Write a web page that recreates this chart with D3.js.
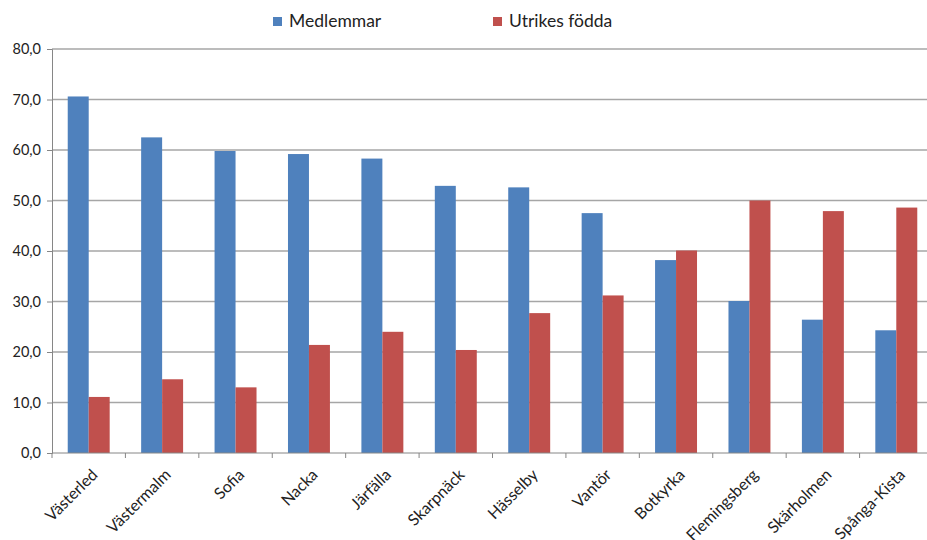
<!DOCTYPE html>
<html><head><meta charset="utf-8">
<script src="https://cdn.jsdelivr.net/npm/d3@7"></script>
<style>body{margin:0;background:#fff}svg{display:block}text{font-family:Lato,"Open Sans",sans-serif}</style>
</head><body>
<svg id="c" width="927" height="540"></svg>
<script>
const categories = ["Västerled","Västermalm","Sofia","Nacka","Järfälla","Skarpnäck","Hässelby","Vantör","Botkyrka","Flemingsberg","Skärholmen","Spånga-Kista"];
const medlemmar = [70.6,62.5,59.8,59.2,58.3,52.9,52.6,47.5,38.2,30.1,26.4,24.3];
const utrikes = [11.1,14.6,13.0,21.4,24.0,20.4,27.7,31.2,40.1,50.0,47.9,48.6];
const seriesNames = ["Medlemmar","Utrikes födda"];
const yTicks = [0,10,20,30,40,50,60,70,80];
const colors = ["#4F81BD","#C0504D"];

(function(){
const svg = d3.select("#c");
const mL = 52, mR = 933, mT = 49, mB = 453;
const x = d3.scaleBand().domain(categories).range([mL, mR]).paddingInner(0).paddingOuter(0);
const inner = d3.scaleBand().domain([0,1]).range([0, x.bandwidth()]).paddingOuter(0.75).paddingInner(0);
const y = d3.scaleLinear().domain([0,80]).range([mB, mT]);

// gridlines
svg.append("g").selectAll("line").data(yTicks.filter(d=>d>0)).join("line")
  .attr("x1", mL).attr("x2", 927).attr("y1", d=>y(d)).attr("y2", d=>y(d))
  .attr("stroke", "#a6a6a6").attr("stroke-width", 1.3);

// bars
const series = [medlemmar, utrikes];
series.forEach((vals, si) => {
  svg.append("g").selectAll("rect").data(vals).join("rect")
    .attr("x", (d,i)=>x(categories[i]) + inner(si))
    .attr("width", inner.bandwidth())
    .attr("y", d=>y(d))
    .attr("height", d=>y(0)-y(d))
    .attr("fill", colors[si]);
});

// y axis
const yAxis = d3.axisLeft(y).tickValues(yTicks).tickSize(5).tickPadding(6)
  .tickFormat(d=>d3.format(".1f")(d).replace(".", ","));
const ya = svg.append("g").attr("transform", `translate(${mL},0)`).call(yAxis);
ya.select(".domain").attr("stroke", "#868686");
ya.selectAll(".tick line").attr("stroke", "#868686");
ya.selectAll("text").attr("font-size", 14.5).attr("fill", "#222").attr("font-family", "Lato");

// x axis
const xa = svg.append("g").attr("transform", `translate(0,${mB})`);
xa.append("line").attr("x1", mL).attr("x2", 927).attr("stroke", "#868686");
xa.selectAll(".tk").data(categories.concat(["_end"])).join("line")
  .attr("x1", (d,i)=>mL + i*x.step()).attr("x2", (d,i)=>mL + i*x.step())
  .attr("y1", 0).attr("y2", 5).attr("stroke", "#868686");
xa.selectAll("text").data(categories).join("text")
  .attr("transform", d=>`translate(${x(d)+x.bandwidth()/2+3},16) rotate(-45)`)
  .attr("text-anchor", "end").attr("dy", "0.6em")
  .attr("font-size", 16).attr("fill", "#222").text(d=>d);

// legend
const lg = svg.append("g");
const lx = [273, 493];
seriesNames.forEach((n, i) => {
  lg.append("rect").attr("x", lx[i]).attr("y", 17).attr("width", 9).attr("height", 9).attr("fill", colors[i]);
  lg.append("text").attr("x", lx[i]+16).attr("y", 21).attr("dy", "0.35em")
    .attr("font-size", 17.5).attr("fill", "#222").text(n);
});
})();
</script>
</body></html>
